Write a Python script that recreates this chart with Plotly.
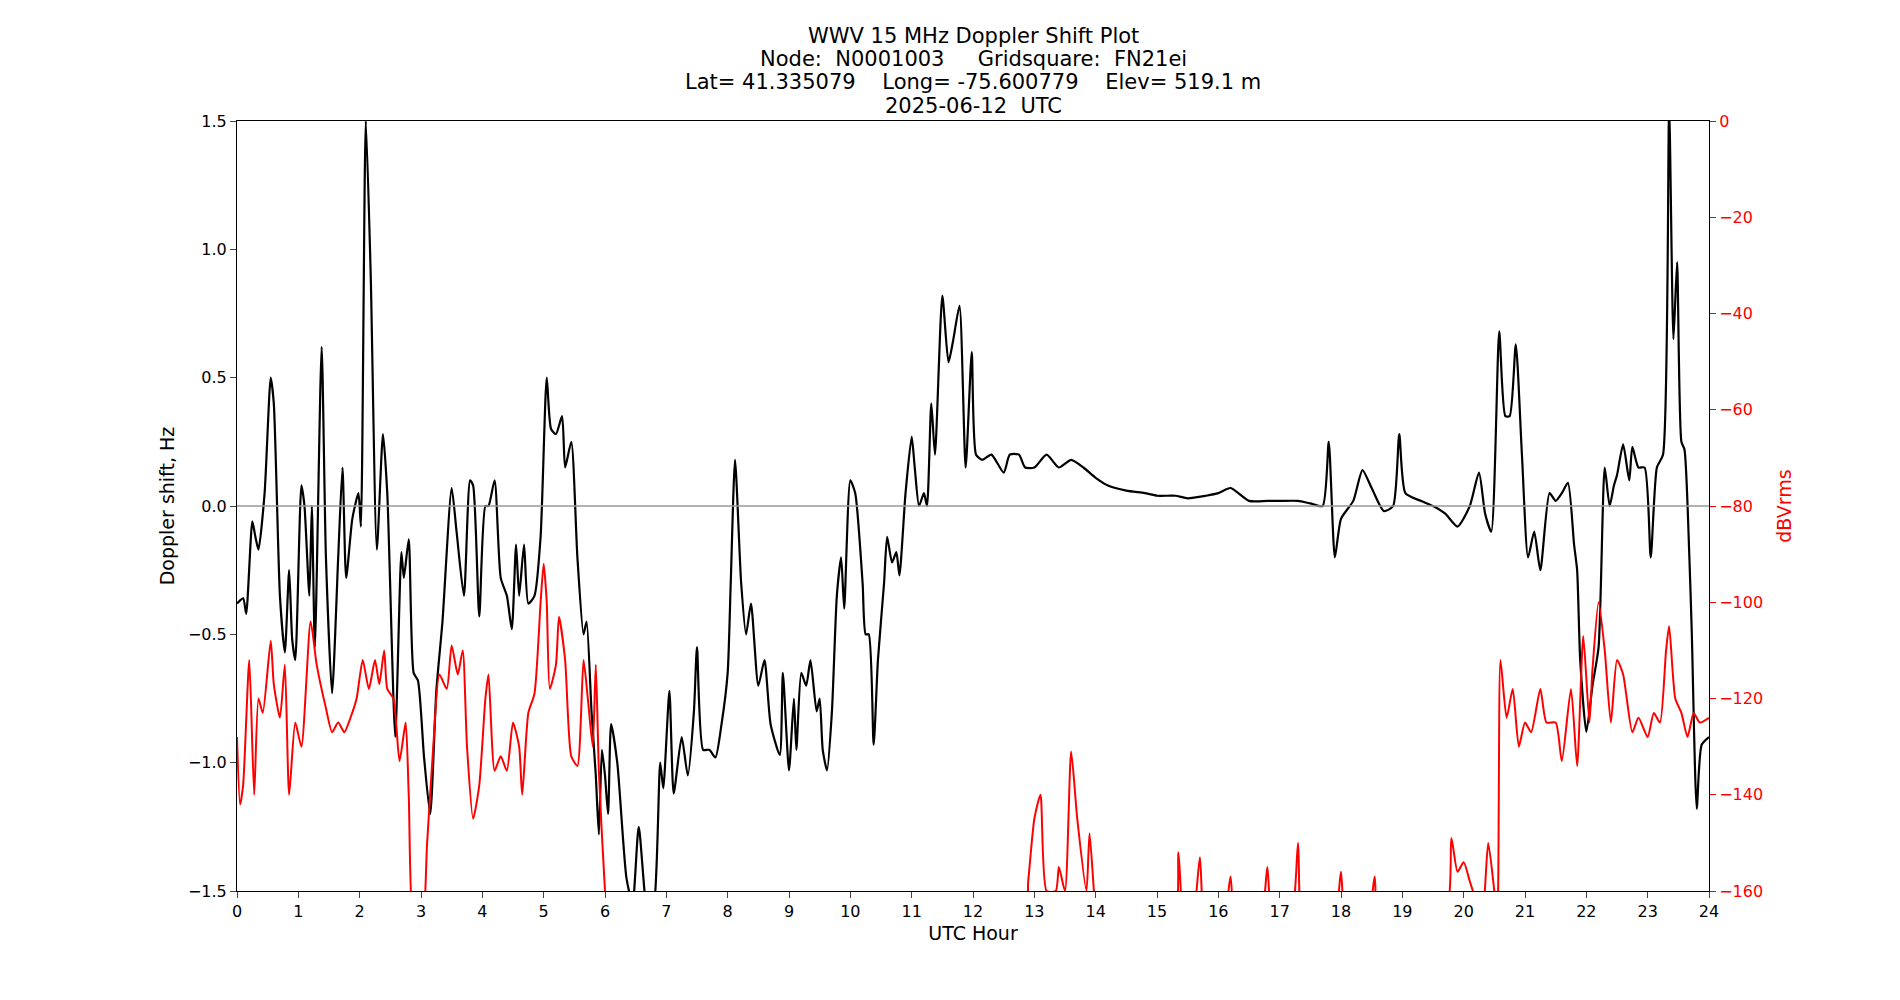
import plotly.graph_objects as go

# Doppler shift (Hz) vs UTC hour
dop_hour = [0.0, 0.1, 0.15, 0.25, 0.3, 0.35, 0.45, 0.55, 0.6, 0.7, 0.78, 0.85, 0.9, 0.95, 1.05, 1.1, 1.18, 1.22, 1.27, 1.38,
            1.45, 1.55, 1.65, 1.72, 1.78, 1.88, 1.98, 2.02, 2.1, 2.18, 2.28, 2.38, 2.45, 2.58, 2.68, 2.72, 2.8, 2.88, 2.95, 3.05,
            3.15, 3.25, 3.35, 3.5, 3.58, 3.7, 3.8, 3.85, 3.95, 4.05, 4.1, 4.2, 4.3, 4.4, 4.48, 4.55, 4.6, 4.68, 4.75, 4.85,
            4.95, 5.05, 5.12, 5.2, 5.3, 5.35, 5.45, 5.55, 5.65, 5.7, 5.78, 5.85, 5.9, 5.95, 6.0, 6.05, 6.1, 6.2, 6.35, 6.45,
            6.55, 6.7, 6.8, 6.9, 6.95, 7.05, 7.12, 7.25, 7.35, 7.45, 7.5, 7.6, 7.7, 7.8, 7.9, 8.0, 8.05, 8.12, 8.22, 8.3,
            8.38, 8.5, 8.6, 8.7, 8.85, 8.9, 9.0, 9.08, 9.12, 9.2, 9.28, 9.35, 9.45, 9.5, 9.55, 9.62, 9.7, 9.78, 9.85, 9.9,
            10.0, 10.08, 10.2, 10.25, 10.3, 10.38, 10.45, 10.55, 10.6, 10.68, 10.75, 10.8, 10.9, 11.0, 11.05, 11.12, 11.2, 11.25, 11.32, 11.38,
            11.5, 11.6, 11.68, 11.78, 11.88, 11.98, 12.05, 12.15, 12.3, 12.5, 12.6, 12.75, 12.85, 13.0, 13.2, 13.4, 13.6, 13.8, 14.0, 14.2,
            14.5, 14.8, 15.0, 15.3, 15.5, 15.8, 16.0, 16.2, 16.5, 16.8, 17.0, 17.3, 17.5, 17.7, 17.8, 17.9, 18.0, 18.2, 18.35, 18.5,
            18.7, 18.85, 18.95, 19.05, 19.3, 19.5, 19.7, 19.9, 20.1, 20.25, 20.35, 20.45, 20.58, 20.68, 20.75, 20.85, 20.95, 21.05, 21.15, 21.25,
            21.4, 21.5, 21.6, 21.7, 21.8, 21.85, 21.9, 22.0, 22.1, 22.2, 22.3, 22.38, 22.45, 22.5, 22.6, 22.7, 22.75, 22.85, 22.95, 23.05,
            23.15, 23.25, 23.35, 23.42, 23.48, 23.55, 23.6, 23.68, 23.72, 23.8, 23.88, 24.0]
dop_hz = [-0.38, -0.36, -0.42, -0.06, -0.12, -0.17, 0.05, 0.5, 0.4, -0.35, -0.57, -0.25, -0.52, -0.6, 0.08, 0.0, -0.35, 0.0, -0.55, 0.62,
          -0.2, -0.73, -0.2, 0.15, -0.28, -0.05, 0.05, -0.08, 1.5, 0.9, -0.17, 0.28, 0.05, -0.9, -0.18, -0.28, -0.13, -0.65, -0.68, -0.98,
          -1.2, -0.72, -0.45, 0.07, -0.1, -0.35, 0.1, 0.08, -0.43, 0.0, 0.0, 0.1, -0.28, -0.35, -0.48, -0.15, -0.35, -0.15, -0.38, -0.35,
          -0.12, 0.5, 0.3, 0.28, 0.35, 0.15, 0.25, -0.2, -0.5, -0.45, -0.8, -1.05, -1.28, -0.95, -1.05, -1.2, -0.85, -1.0, -1.45, -1.55,
          -1.25, -1.6, -1.55, -1.0, -1.1, -0.72, -1.12, -0.9, -1.05, -0.8, -0.55, -0.95, -0.95, -0.98, -0.85, -0.65, -0.3, 0.18, -0.3, -0.5,
          -0.38, -0.7, -0.6, -0.85, -0.97, -0.65, -1.03, -0.75, -0.95, -0.65, -0.7, -0.6, -0.8, -0.75, -0.95, -1.03, -0.8, -0.35, -0.2, -0.4,
          0.1, 0.05, -0.3, -0.5, -0.5, -0.93, -0.6, -0.3, -0.12, -0.22, -0.18, -0.27, 0.05, 0.27, 0.15, 0.0, 0.05, 0.0, 0.4, 0.2,
          0.82, 0.56, 0.65, 0.78, 0.15, 0.6, 0.2, 0.18, 0.2, 0.13, 0.2, 0.2, 0.15, 0.15, 0.2, 0.15, 0.18, 0.15, 0.11, 0.08,
          0.06, 0.05, 0.04, 0.04, 0.03, 0.04, 0.05, 0.07, 0.02, 0.02, 0.02, 0.02, 0.01, 0.0, 0.25, -0.2, -0.05, 0.02, 0.14, 0.07,
          -0.02, 0.0, 0.28, 0.05, 0.02, 0.0, -0.03, -0.08, 0.0, 0.13, -0.03, -0.1, 0.68, 0.35, 0.35, 0.63, 0.2, -0.2, -0.1, -0.25,
          0.05, 0.02, 0.05, 0.09, -0.15, -0.25, -0.6, -0.88, -0.7, -0.55, 0.15, 0.0, 0.08, 0.12, 0.24, 0.1, 0.23, 0.15, 0.15, -0.2,
          0.15, 0.2, 1.55, 0.65, 0.95, 0.25, 0.22, -0.2, -0.5, -1.18, -0.93, -0.9]

# Signal level (dBVrms) vs UTC hour; values under -160 fall off the axis
db_hour = [0.0, 0.05, 0.1, 0.2, 0.28, 0.35, 0.42, 0.55, 0.6, 0.7, 0.78, 0.85, 0.95, 1.05, 1.2, 1.3, 1.45, 1.55, 1.65, 1.75,
           1.85, 1.95, 2.05, 2.15, 2.25, 2.32, 2.4, 2.45, 2.55, 2.65, 2.75, 2.8, 2.9, 3.0, 3.1, 3.2, 3.3, 3.42, 3.5, 3.6,
           3.68, 3.75, 3.85, 3.95, 4.05, 4.1, 4.2, 4.3, 4.4, 4.5, 4.6, 4.65, 4.75, 4.85, 4.95, 5.0, 5.05, 5.1, 5.2, 5.25,
           5.35, 5.45, 5.55, 5.65, 5.72, 5.8, 5.85, 5.9, 6.0, 6.1, 12.8, 12.9, 13.0, 13.1, 13.2, 13.35, 13.4, 13.5, 13.6, 13.7,
           13.85, 13.9, 14.0, 14.1, 15.25, 15.35, 15.45, 15.6, 15.7, 15.8, 16.1, 16.2, 16.3, 16.7, 16.8, 16.9, 17.2, 17.3, 17.4, 17.9,
           18.0, 18.1, 18.45, 18.55, 18.65, 19.7, 19.8, 19.9, 20.0, 20.1, 20.3, 20.4, 20.5, 20.55, 20.6, 20.7, 20.8, 20.9, 21.0, 21.1,
           21.25, 21.35, 21.5, 21.6, 21.75, 21.85, 21.95, 22.05, 22.1, 22.2, 22.3, 22.4, 22.5, 22.6, 22.75, 22.85, 23.0, 23.1, 23.2, 23.3,
           23.35, 23.45, 23.55, 23.65, 23.75, 23.85, 24.0]
db_vrms = [-128, -142, -138, -112, -140, -120, -123, -108, -117, -124, -113, -140, -125, -130, -104, -113, -122, -127, -125, -127,
           -124, -120, -112, -118, -112, -117, -110, -118, -120, -133, -125, -140, -170, -170, -150, -130, -115, -118, -109, -115,
           -110, -130, -145, -138, -120, -115, -135, -132, -135, -125, -130, -140, -123, -119, -100, -92, -100, -118, -113, -103,
           -112, -132, -134, -112, -120, -130, -113, -135, -160, -175, -170, -158, -145, -140, -160, -160, -155, -160, -131, -145,
           -160, -148, -165, -175, -170, -152, -170, -165, -153, -170, -165, -157, -170, -165, -155, -170, -165, -150, -170, -165,
           -156, -170, -165, -157, -170, -165, -149, -156, -154, -158, -165, -150, -160, -165, -112, -124, -118, -130, -125, -127,
           -118, -125, -125, -133, -118, -134, -107, -125, -114, -100, -110, -125, -112, -115, -127, -124, -128, -123, -125, -110,
           -105, -120, -123, -128, -123, -125, -124]

x_ticks = list(range(0, 25))

title_lines = ["WWV 15 MHz Doppler Shift Plot",
               "Node:  N0001003     Gridsquare:  FN21ei",
               "Lat= 41.335079    Long= -75.600779    Elev= 519.1 m",
               "2025-06-12  UTC"]
title_y = [1.110, 1.080, 1.050, 1.020]

fig = go.Figure()
fig.add_trace(go.Scatter(x=db_hour, y=db_vrms, mode="lines", yaxis="y2",
                         line=dict(color="red", width=2, shape="spline", smoothing=0.6), showlegend=False))
fig.add_trace(go.Scatter(x=dop_hour, y=dop_hz, mode="lines",
                         line=dict(color="black", width=2.2, shape="spline", smoothing=0.6), showlegend=False))
fig.add_hline(y=0, line=dict(color="#999999", width=1.5))

for txt, ty in zip(title_lines, title_y):
    fig.add_annotation(text=txt, x=0.5, y=ty, xref="paper", yref="paper", xanchor="center", yanchor="middle",
                       showarrow=False, font=dict(family="DejaVu Sans", size=21, color="black"))

font = dict(family="DejaVu Sans", size=16, color="black")
fig.update_layout(
    width=1900, height=1000, paper_bgcolor="white", plot_bgcolor="white",
    margin=dict(l=229, r=199, t=113, b=117),
    font=font,
    xaxis=dict(range=[0, 24], tickvals=x_ticks, title=dict(text="UTC Hour", standoff=6), showgrid=False,
               zeroline=False, showline=True, linecolor="black", mirror=True, ticks="outside", ticklen=6),
    yaxis=dict(range=[-1.5, 1.5], dtick=0.5, tickformat=".1f", title=dict(text="Doppler shift, Hz", standoff=8),
               showgrid=False, zeroline=False, showline=True, linecolor="black", mirror=True, ticks="outside", ticklen=6),
    yaxis2=dict(range=[-160, 0], dtick=20, overlaying="y", side="right", showgrid=False, zeroline=False,
                title=dict(text="dBVrms", font=dict(color="red")), tickfont=dict(color="red"),
                ticks="outside", ticklen=6, tickcolor="red"),
)

fig.write_html("out.html")
